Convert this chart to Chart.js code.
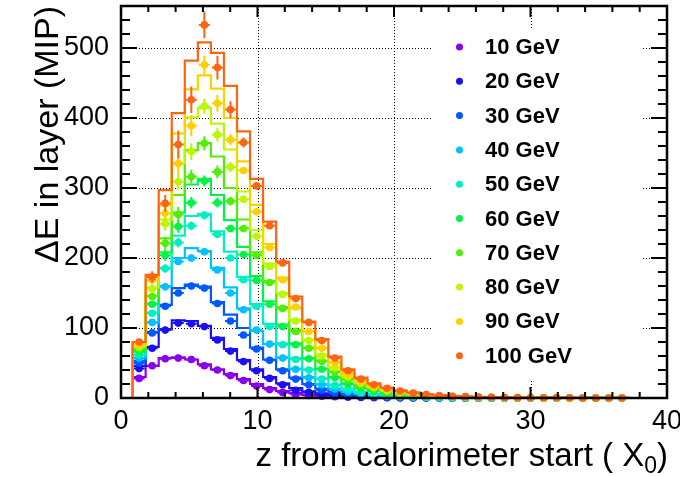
<!DOCTYPE html>
<html>
<head>
<meta charset="utf-8">
<script src="https://cdn.jsdelivr.net/npm/chart.js@4.4.0/dist/chart.umd.min.js"></script>
<style>
  html, body { margin: 0; padding: 0; background: #fff; }
  #wrap { width: 680px; height: 477px; }
</style>
</head>
<body>
<div id="wrap"><canvas id="chartCanvas" width="680" height="477"></canvas></div>
<script>
// beam energies and their colours (rainbow palette)
const energies = ["10 GeV", "20 GeV", "30 GeV", "40 GeV", "50 GeV", "60 GeV", "70 GeV", "80 GeV", "90 GeV", "100 GeV"];
const colors = ["#8a00ee", "#1c10f0", "#0058ff", "#00c2ff", "#00f0c4", "#00f448", "#4cf000", "#bcf600", "#ffd000", "#ff6410"];

// layers: first layer edge and layer thickness in X0
const binStart = 0.85;
const binWidth = 0.956;

const xTicks = [0, 10, 20, 30, 40];
const yTicks = [0, 100, 200, 300, 400, 500];

// simulation (histograms), MIP per layer
const mc10  = [30,46,57,58,55,48,41,34,27,20,14,10,7,4.5,3,2,1.4,1,0.7,0.5,0.3,0.2,0.1,0.1,0,0,0,0,0,0,0,0,0,0,0,0,0,0];
const mc20  = [46,73,98,111,110,103,86,70,54,41,30,21,14,9.5,6.5,4.5,3,2,1.4,1,0.7,0.5,0.3,0.2,0.1,0.1,0.1,0,0,0,0,0,0,0,0,0,0,0];
const mc30  = [53,94,133,157,162,159,137,119,100,72,55,41,29,20,13.5,9,6,4,2.8,2,1.4,1,0.7,0.5,0.3,0.2,0.1,0.1,0.1,0.1,0.1,0.1,0.1,0,0,0,0,0];
const mc40  = [57,108,160,200,214,210,186,158,128,96,77,58,42,30,20,13.5,9,6,4,2.8,2,1.3,0.9,0.6,0.4,0.3,0.2,0.1,0.1,0.1,0.1,0.1,0.1,0.1,0.1,0.1,0.1,0.1];
const mc50  = [61,122,186,232,260,263,238,209,173,134,106,78,57,41,28,19,13,8.5,6,4,2.8,1.9,1.3,0.9,0.6,0.4,0.3,0.2,0.2,0.1,0.1,0.1,0.1,0.1,0.1,0.1,0.1,0.1];
const mc60  = [67,135,208,265,305,313,290,254,216,174,138,105,78,57,42,30,21,15,10.5,7.5,5.3,3.7,2.6,1.9,1.3,1,0.7,0.5,0.4,0.3,0.2,0.1,0.1,0.1,0.1,0.1,0.1,0.1];
const mc70  = [71,146,228,290,354,364,345,300,255,208,167,130,97,72,53,38,27,19,13.5,9.5,6.8,4.8,3.4,2.5,1.8,1.3,0.9,0.7,0.5,0.4,0.3,0.2,0.1,0.1,0.1,0.1,0.1,0.1];
const mc80  = [74,158,255,335,401,414,392,355,295,240,192,150,112,83,62,44,31,21.5,15.5,11,7.8,5.5,4,2.9,2.1,1.5,1.1,0.8,0.6,0.4,0.3,0.2,0.2,0.1,0.1,0.1,0.1,0.1];
const mc90  = [78,168,275,378,441,461,442,400,338,276,220,172,128,96,72,51,36,25,18,13,9,6.5,4.7,3.4,2.5,1.8,1.3,1,0.7,0.5,0.4,0.3,0.2,0.2,0.1,0.1,0.1,0.1];
const mc100 = [80,176,297,407,482,508,493,446,381,313,252,195,145,109,84,59,41,29,21,15,11,8,5.5,4,3,2.2,1.6,1.2,0.9,0.7,0.5,0.4,0.3,0.2,0.2,0.1,0.1,0.1];

// measured points, MIP per layer
const data10  = [28,46,56,57,55,46,40,32,25,17,12,8,5,3.5,2.5,1.7,1.2,0.8,0.5,0.3,0.2,0.1,0.1,0,0,0,0,0,0,0,0,0,0,0,0,0,0,0];
const data20  = [42,71,97,107,106,102,83,67,52,39,28,19,11,8,4.5,3,2,1.4,1,0.7,0.5,0.3,0.2,0.1,0.1,0.1,0,0,0,0,0,0,0,0,0,0,0,0];
const data30  = [50,93,131,150,160,157,135,110,90,70,54,39,27,19,11,7,4,2.5,1.8,1.2,0.8,0.5,0.3,0.2,0.1,0.1,0.1,0.1,0.1,0.1,0,0,0,0,0,0,0,0];
const data40  = [57,108,159,195,200,209,183,150,126,97,77,57,41,29,19,13,9,6,4,2.7,1.9,1.3,0.9,0.6,0.4,0.3,0.2,0.1,0.1,0.1,0.1,0.1,0.1,0.1,0.1,0.1,0.1,0.1];
const data50  = [62,121,185,222,246,261,234,200,169,131,102,76,55,40,27,18,12,8,5.5,3.8,2.6,1.8,1.2,0.8,0.5,0.3,0.2,0.2,0.1,0.1,0.1,0.1,0.1,0.1,0.1,0.1,0.1,0.1];
const data60  = [66,134,204,245,279,310,279,242,205,168,134,102,76,56,41,29,20,14,10,7,5,3.5,2.5,1.8,1.3,0.9,0.7,0.5,0.4,0.3,0.2,0.1,0.1,0.1,0.1,0.1,0.1,0.1];
const data70  = [70,145,221,262,316,364,323,281,242,204,165,128,95,71,52,37,26,18,13,9,6.5,4.6,3.3,2.4,1.7,1.2,0.9,0.7,0.5,0.4,0.3,0.2,0.1,0.1,0.1,0.1,0.1,0.1];
const data80  = [73,156,249,309,352,417,376,330,284,231,188,148,110,82,60,43,30,21,15,10.5,7.5,5.3,3.8,2.8,2,1.4,1,0.8,0.6,0.4,0.3,0.2,0.2,0.1,0.1,0.1,0.1,0.1];
const data90  = [76,169,264,335,389,476,421,369,325,266,215,169,130,95,71,50,34,24,17,12,8.5,6,4.4,3.2,2.3,1.7,1.2,0.9,0.7,0.5,0.4,0.3,0.2,0.1,0.1,0.1,0.1,0.1];
const data100 = [80,173,278,362,426,533,472,412,365,303,246,193,142,108,82,57,39,27,19,14,10,7,5,3.5,2.6,1.9,1.4,1,0.8,0.6,0.4,0.3,0.2,0.2,0.1,0.1,0.1,0.1];

// errors on the measured points (first layers, rest negligible)
const err10  = [1,1,2,2,2,2,1,1,1,1,1,1];
const err20  = [1,2,3,3,3,3,2,2,2,1,1,1];
const err30  = [2,3,4,4,4,4,3,3,2,2,2,1];
const err40  = [2,3,5,5,5,5,4,3,3,2,2,2];
const err50  = [2,4,6,7,6,6,5,4,3,3,2,2];
const err60  = [2,5,8,9,8,8,7,5,4,3,2,2];
const err70  = [3,5,9,11,10,10,9,6,5,3,3,2];
const err80  = [3,6,10,12,12,11,10,7,5,4,3,2];
const err90  = [3,7,11,15,15,13,12,8,5,4,3,3];
const err100 = [3,8,12,20,19,19,17,12,7,5,4,3];

const mcValues = [mc10, mc20, mc30, mc40, mc50, mc60, mc70, mc80, mc90, mc100];
const dataValues = [data10, data20, data30, data40, data50, data60, data70, data80, data90, data100];
const errValues = [err10, err20, err30, err40, err50, err60, err70, err80, err90, err100];

const FONT = "'Liberation Sans', Arial, Helvetica, sans-serif";

function binCenter(i) {
  return binStart + binWidth * (i + 0.5);
}

// step outline: one point per lower bin edge, drawn with stepped lines
function histPoints(values) {
  const pts = [{ x: 0, y: 0 }];
  values.forEach((v, i) => pts.push({ x: binStart + binWidth * i, y: v }));
  pts.push({ x: binStart + binWidth * values.length, y: 0 });
  pts.push({ x: 40, y: 0 });
  return pts;
}

function buildDatasets() {
  const sets = [];
  energies.forEach((name, k) => {
    const rank = energies.length - 1 - k; // higher energy on top
    sets.push({
      label: name + " MC",
      data: histPoints(mcValues[k]),
      borderColor: colors[k],
      borderWidth: 2.2,
      stepped: "before",
      pointRadius: 0,
      fill: false,
      order: 2 * rank + 1
    });
    sets.push({
      label: name,
      data: dataValues[k].map((v, i) => ({ x: binCenter(i), y: v })),
      errors: errValues[k],
      errColor: colors[k],
      showLine: false,
      pointRadius: 3.8,
      pointBackgroundColor: colors[k],
      pointBorderWidth: 0,
      clip: false,
      order: 2 * rank
    });
  });
  return sets;
}

// error bars under each data marker
const errorBars = {
  id: "errorBars",
  beforeDatasetDraw(chart, args) {
    const ds = chart.data.datasets[args.index];
    if (!ds.errors) return;
    const { ctx, chartArea } = chart;
    const xs = chart.scales.x, ys = chart.scales.y;
    ctx.save();
    ctx.beginPath();
    ctx.rect(chartArea.left, chartArea.top, chartArea.right - chartArea.left, chartArea.bottom - chartArea.top);
    ctx.clip();
    ctx.strokeStyle = ds.errColor;
    ctx.lineWidth = 2;
    ctx.beginPath();
    ds.data.forEach((p, i) => {
      const px = xs.getPixelForValue(p.x);
      const py = ys.getPixelForValue(p.y);
      ctx.moveTo(xs.getPixelForValue(p.x - binWidth * 0.42), py);
      ctx.lineTo(xs.getPixelForValue(p.x + binWidth * 0.42), py);
      const e = ds.errors[i] || 0;
      if (e > 0) {
        ctx.moveTo(px, ys.getPixelForValue(p.y - e));
        ctx.lineTo(px, ys.getPixelForValue(p.y + e));
      }
    });
    ctx.stroke();
    ctx.restore();
  }
};

// dotted grid at major ticks
const gridLines = {
  id: "gridLines",
  beforeDatasetsDraw(chart) {
    const { ctx, chartArea: a } = chart;
    const xs = chart.scales.x, ys = chart.scales.y;
    ctx.save();
    ctx.strokeStyle = "#000";
    ctx.lineWidth = 1;
    ctx.setLineDash([1, 2]);
    ctx.beginPath();
    xTicks.slice(1, -1).forEach(v => {
      const px = Math.round(xs.getPixelForValue(v)) + 0.5;
      ctx.moveTo(px, a.top);
      ctx.lineTo(px, a.bottom);
    });
    yTicks.slice(1).forEach(v => {
      const py = Math.round(ys.getPixelForValue(v)) + 0.5;
      ctx.moveTo(a.left, py);
      ctx.lineTo(a.right, py);
    });
    ctx.stroke();
    ctx.restore();
  }
};

// frame, inside ticks, legend and axis titles
const decorations = {
  id: "decorations",
  afterDatasetsDraw(chart) {
    const { ctx, chartArea: a } = chart;
    const xs = chart.scales.x, ys = chart.scales.y;
    ctx.save();
    ctx.strokeStyle = "#000";
    ctx.lineWidth = 2;
    ctx.beginPath();
    for (let v = 0; v <= 40; v += 2) {
      const px = xs.getPixelForValue(v);
      const len = v % 10 === 0 ? 11 : 6;
      ctx.moveTo(px, a.bottom); ctx.lineTo(px, a.bottom - len);
      ctx.moveTo(px, a.top); ctx.lineTo(px, a.top + len);
    }
    for (let v = 0; v <= 560; v += 20) {
      const py = ys.getPixelForValue(v);
      const len = v % 100 === 0 ? 16 : 9;
      ctx.moveTo(a.left, py); ctx.lineTo(a.left + len, py);
      ctx.moveTo(a.right, py); ctx.lineTo(a.right - len, py);
    }
    ctx.stroke();
    ctx.lineWidth = 2.5;
    ctx.strokeRect(a.left, a.top, a.right - a.left, a.bottom - a.top);

    // legend box
    ctx.fillStyle = "#fff";
    ctx.fillRect(432, 29, 211, 350);
    ctx.font = "bold 22px " + FONT;
    ctx.textBaseline = "middle";
    ctx.textAlign = "left";
    energies.forEach((name, k) => {
      const y = 47 + k * 34.3;
      ctx.fillStyle = colors[k];
      ctx.beginPath();
      ctx.arc(459.5, y, 3.5, 0, Math.PI * 2);
      ctx.fill();
      ctx.fillStyle = "#000";
      ctx.fillText(name, 485, y + 1);
    });
    ctx.restore();
  },
  afterDraw(chart) {
    const ctx = chart.ctx;
    ctx.save();
    ctx.fillStyle = "#000";
    ctx.textBaseline = "alphabetic";

    // x title with subscript
    const big = "33px " + FONT, small = "23px " + FONT;
    const right = 668, base = 466;
    ctx.font = big;
    const wClose = ctx.measureText(")").width;
    ctx.font = small;
    const wSub = ctx.measureText("0").width;
    ctx.textAlign = "right";
    ctx.font = big;
    ctx.fillText(")", right, base);
    ctx.font = small;
    ctx.fillText("0", right - wClose, base + 7);
    ctx.font = big;
    ctx.fillText("z from calorimeter start ( X", right - wClose - wSub, base);

    // y title
    ctx.translate(58, 6);
    ctx.rotate(-Math.PI / 2);
    ctx.textAlign = "right";
    ctx.font = "34px " + FONT;
    ctx.fillText("\u0394E in layer (MIP)", 0, 0);
    ctx.restore();
  }
};

function getChartConfig() {
  const tickFont = { family: FONT, size: 27 };
  return {
    type: "line",
    data: { datasets: buildDatasets() },
    options: {
      responsive: false,
      animation: false,
      devicePixelRatio: 1,
      layout: { autoPadding: false, padding: { left: 0, right: 13, top: 6, bottom: 0 } },
      plugins: { legend: { display: false }, tooltip: { enabled: false } },
      scales: {
        x: {
          type: "linear", min: 0, max: 40,
          afterBuildTicks: s => { s.ticks = xTicks.map(v => ({ value: v })); },
          ticks: { color: "#000", font: tickFont, padding: 7, maxRotation: 0 },
          grid: { display: false, drawTicks: false },
          border: { display: false },
          afterFit: s => { s.height = 79; s.paddingLeft = 0; s.paddingRight = 0; }
        },
        y: {
          type: "linear", min: 0, max: 560,
          afterBuildTicks: s => { s.ticks = yTicks.map(v => ({ value: v })); },
          ticks: { color: "#000", font: tickFont, padding: 12 },
          grid: { display: false, drawTicks: false },
          border: { display: false },
          afterFit: s => { s.width = 121; s.paddingTop = 0; s.paddingBottom = 0; }
        }
      }
    },
    plugins: [errorBars, gridLines, decorations]
  };
}

const chart = new Chart(document.getElementById("chartCanvas").getContext("2d"), getChartConfig());
</script>
</body>
</html>
